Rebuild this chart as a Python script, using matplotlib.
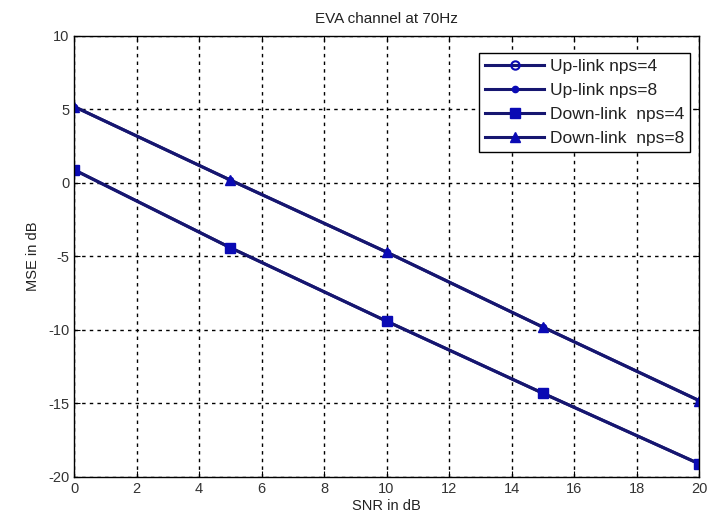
import matplotlib
matplotlib.use("Agg")
import matplotlib.pyplot as plt

plt.rcParams['font.family'] = ['Liberation Sans', 'DejaVu Sans']
plt.rcParams['axes.unicode_minus'] = False

snr = [0, 5, 10, 15, 20]
up_nps4 = [0.9, -4.4, -9.4, -14.3, -19.1]
up_nps8 = [5.2, 0.2, -4.7, -9.8, -14.8]
down_nps4 = [0.9, -4.4, -9.4, -14.3, -19.1]
down_nps8 = [5.2, 0.2, -4.7, -9.8, -14.8]

xticks = [0, 2, 4, 6, 8, 10, 12, 14, 16, 18, 20]
yticks = [-20, -15, -10, -5, 0, 5, 10]

fig = plt.figure(figsize=(7.07, 5.26), dpi=100)
ax = fig.add_axes([0.1047, 0.0932, 0.884, 0.8384])

line_c = '#161670'
mk_c = '#0a0ab4'
ax.plot(snr, up_nps4, '-o', color=line_c, lw=2.2, ms=6, mfc='none', mec=mk_c, mew=1.5, label='Up-link nps=4')
ax.plot(snr, up_nps8, '-', marker='.', color=line_c, lw=2.2, ms=9, mfc=mk_c, mec=mk_c, label='Up-link nps=8')
ax.plot(snr, down_nps4, '-s', color=line_c, lw=2.2, ms=7, mfc=mk_c, mec=mk_c, label='Down-link  nps=4')
ax.plot(snr, down_nps8, '-^', color=line_c, lw=2.2, ms=7, mfc=mk_c, mec=mk_c, label='Down-link  nps=8')

ax.set_xlim(0, 20)
ax.set_ylim(-20, 10)
ax.set_xticks(xticks)
ax.set_yticks(yticks)
ax.tick_params(direction='in', labelsize=10.5, colors='#333333', length=4,
               top=True, right=True)
ax.tick_params(axis='both', color='black')
ax.grid(True, linestyle=(0, (2.5, 3)), color='black', lw=1.0)
for s in ax.spines.values():
    s.set_linewidth(1.0)
ax.set_xlabel('SNR in dB', fontsize=10.5, labelpad=2, color='#222222')
ax.set_ylabel('MSE in dB', fontsize=10.5, labelpad=6, color='#222222')
ax.set_title('EVA channel at 70Hz', fontsize=11, pad=9, color='#222222')

leg = ax.legend(loc='upper right', bbox_to_anchor=(690 / 707, 1 - 53 / 526),
                bbox_transform=fig.transFigure, fontsize=12.5, frameon=True,
                fancybox=False, edgecolor='black', framealpha=1, borderaxespad=0,
                handlelength=3.4, handletextpad=0.3, labelspacing=0.5, borderpad=0.35)
leg.get_frame().set_linewidth(1.0)
for t in leg.get_texts():
    t.set_color('#222222')

fig.savefig('out.png', dpi=100)
